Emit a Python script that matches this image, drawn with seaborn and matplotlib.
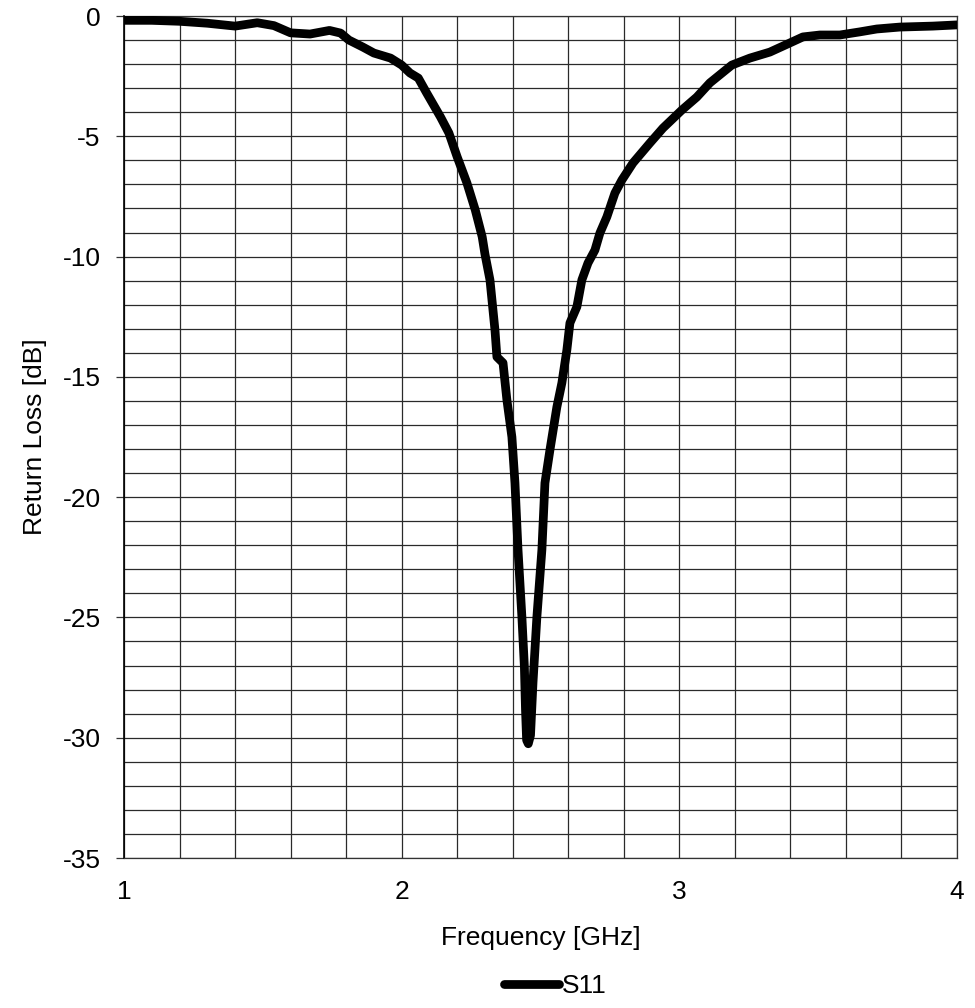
import matplotlib
matplotlib.use("Agg")
import matplotlib.pyplot as plt
import numpy as np
import pandas as pd
import seaborn as sns
from matplotlib.ticker import MultipleLocator, FixedLocator
from matplotlib.lines import Line2D

freq_ghz = [1.00, 1.10, 1.20, 1.30, 1.40, 1.48, 1.54, 1.60, 1.67, 1.74, 1.78, 1.81,
            1.86, 1.90, 1.96, 2.00, 2.03, 2.06, 2.09, 2.14, 2.17, 2.20, 2.235, 2.265,
            2.29, 2.30, 2.318, 2.336, 2.343, 2.365, 2.379, 2.397, 2.408, 2.419, 2.433,
            2.442, 2.446, 2.450, 2.456, 2.464, 2.473, 2.487, 2.505, 2.516, 2.534, 2.559,
            2.577, 2.595, 2.606, 2.631, 2.649, 2.671, 2.696, 2.714, 2.739, 2.768, 2.793,
            2.833, 2.894, 2.941, 3.009, 3.063, 3.110, 3.189, 3.254, 3.326, 3.398, 3.445,
            3.506, 3.578, 3.650, 3.711, 3.794, 3.913, 4.00]
s11_db = [-0.18, -0.18, -0.22, -0.30, -0.42, -0.28, -0.40, -0.70, -0.75, -0.60, -0.71, -1.0,
          -1.29, -1.54, -1.75, -2.04, -2.37, -2.58, -3.2, -4.2, -4.86, -5.86, -6.94, -8.06,
          -9.18, -9.9, -10.97, -13.05, -14.17, -14.42, -15.96, -17.5, -19.41, -22.19, -24.98,
          -27.06, -28.84, -30.1, -30.25, -29.9, -27.7, -24.98, -22.19, -19.41, -18.04, -16.25,
          -15.25, -13.88, -12.76, -12.09, -10.97, -10.27, -9.73, -9.02, -8.35, -7.36, -6.82,
          -6.11, -5.28, -4.66, -3.91, -3.37, -2.78, -2.04, -1.75, -1.5, -1.12, -0.87,
          -0.79, -0.79, -0.66, -0.54, -0.46, -0.42, -0.37]
series_name = "S11"
x_ticks = [1, 2, 3, 4]
y_ticks = [0, -5, -10, -15, -20, -25, -30, -35]

df = pd.DataFrame({"Frequency": freq_ghz, "S11": s11_db, "series": series_name})

sns.set_style("white")
plt.rcParams["font.family"] = ["Liberation Sans", "DejaVu Sans"]
plt.rcParams["text.color"] = "black"
plt.rcParams["axes.labelcolor"] = "black"
plt.rcParams["xtick.color"] = "black"
plt.rcParams["ytick.color"] = "black"

FS = 19

fig = plt.figure(figsize=(9.75, 10.08), dpi=100)
ax = fig.add_axes([124/975, 1-858/1008, (957-124)/975, (858-16)/1008])

sns.lineplot(data=df, x="Frequency", y="S11", hue="series", palette=["black"],
             estimator=None, sort=False, linewidth=6.3, ax=ax, legend=False,
             solid_capstyle="round", solid_joinstyle="round", zorder=3)

ax.set_xlim(1, 4)
ax.set_ylim(-35, 0)
ax.xaxis.set_major_locator(FixedLocator(x_ticks))
ax.xaxis.set_minor_locator(MultipleLocator(0.2))
ax.yaxis.set_major_locator(FixedLocator(y_ticks))
ax.yaxis.set_minor_locator(MultipleLocator(1))
ax.set_xticklabels([str(t) for t in x_ticks])
ax.set_yticklabels([str(t) for t in y_ticks])

ax.grid(True, which="both", color="#2a2a2a", linewidth=0.9)
ax.set_axisbelow(True)

ax.tick_params(axis="y", which="major", direction="out", length=5.8, width=0.9,
               color="#333333", pad=11, labelsize=FS, left=True, labelcolor="black")
ax.tick_params(axis="y", which="minor", length=0)
ax.tick_params(axis="x", which="both", length=0, pad=16, labelsize=FS, labelcolor="black")

for side, sp in ax.spines.items():
    sp.set_visible(True)
    sp.set_color("#333333")
    sp.set_linewidth(0.9)
ax.spines["left"].set_color("black")
ax.spines["left"].set_linewidth(1.2)

ax.set_xlabel("Frequency [GHz]", fontsize=FS, labelpad=16, color="black")
ax.set_ylabel("Return Loss [dB]", fontsize=FS, labelpad=11, color="black")

handle = Line2D([], [], color="black", linewidth=6.3, solid_capstyle="round")
fig.legend([handle], [series_name], loc="center", bbox_to_anchor=(555/975, 1-986/1008),
           frameon=False, fontsize=FS, handlelength=2.1, handletextpad=0.1)

fig.savefig("out.png", dpi=100)
